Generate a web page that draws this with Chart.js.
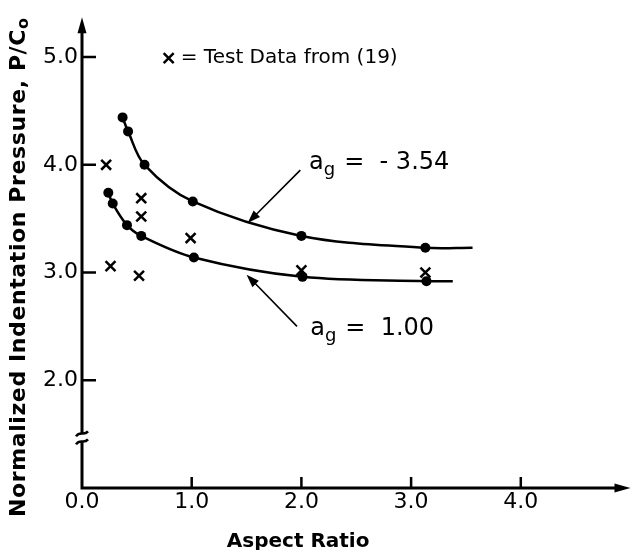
<!DOCTYPE html>
<html>
<head>
<meta charset="utf-8">
<script src="https://cdn.jsdelivr.net/npm/chart.js@4.4.0/dist/chart.umd.min.js"></script>
<style>
html, body { margin: 0; padding: 0; background: #fff; }
#wrap { width: 640px; height: 550px; }
</style>
</head>
<body>
<div id="wrap"><canvas id="indent"></canvas></div>
<script>
// curve a_g = -3.54 (fitted points) and where the drawn line stops
var upperX = [0.37, 0.42, 0.57, 1.01, 2.00, 3.13];
var upperY = [4.44, 4.31, 4.00, 3.66, 3.34, 3.23];
var upperEnd = [3.56, 3.23];
// curve a_g = 1.00
var lowerX = [0.24, 0.28, 0.41, 0.54, 1.02, 2.01, 3.14];
var lowerY = [3.74, 3.64, 3.44, 3.34, 3.14, 2.96, 2.92];
var lowerEnd = [3.38, 2.92];
// test data from (19)
var testX = [0.22, 0.26, 0.52, 0.54, 0.54, 0.99, 2.00, 3.13];
var testY = [4.00, 3.06, 2.97, 3.69, 3.52, 3.32, 3.02, 3.00];

var xTicks = [0, 1, 2, 3, 4];
var yTicks = [2, 3, 4, 5];
var xTitle = 'Aspect Ratio';
var yTitle = 'Normalized Indentation Pressure, P/C';
var yTitleSub = 'o';
var legendText = '= Test Data from (19)';
var curveLabels = ['- 3.54', '1.00'];

Chart.defaults.font.family = "'DejaVu Sans', sans-serif";
Chart.defaults.color = '#000';

function curve(xs, ys, end) {
    var pts = xs.map(function(x, i){ return {x: x, y: ys[i]}; });
    pts.push({x: end[0], y: end[1]});
    return pts;
}
function radii(xs) {
    var r = xs.map(function(){ return 5; });
    r.push(0);
    return r;
}

function arrowHead(ctx, x1, y1, x2, y2, len, half) {
    var a = Math.atan2(y2 - y1, x2 - x1);
    ctx.beginPath();
    ctx.moveTo(x2, y2);
    ctx.lineTo(x2 - len*Math.cos(a) + half*Math.sin(a), y2 - len*Math.sin(a) - half*Math.cos(a));
    ctx.lineTo(x2 - len*Math.cos(a) - half*Math.sin(a), y2 - len*Math.sin(a) + half*Math.cos(a));
    ctx.closePath();
    ctx.fill();
}

// a_g label: 'a' + subscript 'g' + rest
function agLabel(ctx, x, y, rest) {
    ctx.textAlign = 'left';
    ctx.textBaseline = 'alphabetic';
    ctx.font = '24px "DejaVu Sans"';
    ctx.fillText('a', x, y);
    var w = ctx.measureText('a').width;
    ctx.font = '18px "DejaVu Sans"';
    ctx.fillText('g', x + w, y + 6);
    w += ctx.measureText('g').width;
    ctx.font = '24px "DejaVu Sans"';
    ctx.fillText(rest, x + w + 9, y);
}

var extras = {
    id: 'extras',
    afterDraw: function(chart) {
        var ctx = chart.ctx;
        var sx = chart.scales.x, sy = chart.scales.y;
        var area = chart.chartArea;
        var x0 = sx.getPixelForValue(0), y0 = sy.getPixelForValue(1);
        var yb = sy.getPixelForValue(1.47);
        ctx.save();
        ctx.strokeStyle = '#000';
        ctx.fillStyle = '#000';
        ctx.lineCap = 'butt';

        // axes
        ctx.lineWidth = 3;
        ctx.beginPath();
        ctx.moveTo(x0, y0 + 1.5); ctx.lineTo(x0, yb + 5);
        ctx.moveTo(x0, yb - 4); ctx.lineTo(x0, area.top + 10);
        ctx.moveTo(x0 - 1.5, y0); ctx.lineTo(area.right - 10, y0);
        ctx.stroke();
        arrowHead(ctx, x0, area.top + 20, x0, area.top, 16, 4.5);
        arrowHead(ctx, area.right - 20, y0, area.right, y0, 16, 4.5);

        // axis break
        ctx.lineWidth = 2.5;
        ctx.beginPath();
        ctx.moveTo(x0 - 6, yb - 1);
        ctx.bezierCurveTo(x0 - 2, yb - 7, x0 + 2, yb - 1, x0 + 6, yb - 6);
        ctx.moveTo(x0 - 6, yb + 7);
        ctx.bezierCurveTo(x0 - 2, yb + 1, x0 + 2, yb + 7, x0 + 6, yb + 2);
        ctx.stroke();

        // tick marks, drawn inside the axes
        ctx.lineWidth = 2.5;
        ctx.beginPath();
        sy.ticks.forEach(function(t){
            var p = sy.getPixelForValue(t.value);
            ctx.moveTo(x0, p); ctx.lineTo(x0 + 14, p);
        });
        sx.ticks.forEach(function(t){
            if (t.value === 0) return;
            var p = sx.getPixelForValue(t.value);
            ctx.moveTo(p, y0); ctx.lineTo(p, y0 - 11);
        });
        ctx.stroke();

        // legend
        var lx = sx.getPixelForValue(0.79), ly = sy.getPixelForValue(5.0) + 1;
        ctx.lineWidth = 2.5;
        ctx.beginPath();
        ctx.moveTo(lx - 5, ly - 5); ctx.lineTo(lx + 5, ly + 5);
        ctx.moveTo(lx + 5, ly - 5); ctx.lineTo(lx - 5, ly + 5);
        ctx.stroke();
        ctx.font = '20px "DejaVu Sans"';
        ctx.textAlign = 'left';
        ctx.textBaseline = 'middle';
        ctx.fillText(legendText, sx.getPixelForValue(0.90), ly);

        // curve labels with arrows
        ctx.lineWidth = 1.6;
        var ax1 = sx.getPixelForValue(1.99), ay1 = sy.getPixelForValue(3.95);
        var ax2 = sx.getPixelForValue(1.51), ay2 = sy.getPixelForValue(3.46);
        ctx.beginPath(); ctx.moveTo(ax1, ay1); ctx.lineTo(ax2 + 6, ay2 - 6); ctx.stroke();
        arrowHead(ctx, ax1, ay1, ax2, ay2, 13, 4.5);
        agLabel(ctx, sx.getPixelForValue(2.07), sy.getPixelForValue(3.96), '=  ' + curveLabels[0]);

        var bx1 = sx.getPixelForValue(1.96), by1 = sy.getPixelForValue(2.50);
        var bx2 = sx.getPixelForValue(1.50), by2 = sy.getPixelForValue(2.98);
        ctx.beginPath(); ctx.moveTo(bx1, by1); ctx.lineTo(bx2 + 6, by2 + 6); ctx.stroke();
        arrowHead(ctx, bx1, by1, bx2, by2, 13, 4.5);
        agLabel(ctx, sx.getPixelForValue(2.08), sy.getPixelForValue(2.42), '=  ' + curveLabels[1]);

        // axis titles
        ctx.font = 'bold 20px "DejaVu Sans"';
        ctx.textAlign = 'center';
        ctx.textBaseline = 'alphabetic';
        ctx.fillText(xTitle, sx.getPixelForValue(1.97), 547);

        ctx.translate(19, 268);
        ctx.rotate(-Math.PI / 2);
        ctx.font = 'bold 22px "DejaVu Sans"';
        var wMain = ctx.measureText(yTitle).width;
        ctx.font = 'bold 16px "DejaVu Sans"';
        var wSub = ctx.measureText(yTitleSub).width;
        var gap = (499 - wMain - wSub) / yTitle.length;
        ctx.font = 'bold 22px "DejaVu Sans"';
        ctx.textAlign = 'left';
        ctx.textBaseline = 'middle';
        ctx.letterSpacing = gap + 'px';
        var start = -249;
        ctx.fillText(yTitle, start, 0);
        var wSpaced = ctx.measureText(yTitle).width;
        ctx.letterSpacing = '0px';
        ctx.font = 'bold 16px "DejaVu Sans"';
        ctx.fillText(yTitleSub, start + wSpaced, 5);
        ctx.restore();
    }
};

var ctx1 = document.getElementById('indent').getContext('2d');
var chart = new Chart(ctx1, {
    type: 'scatter',
    data: {
        datasets: [{
            label: 'a_g = -3.54',
            data: curve(upperX, upperY, upperEnd),
            showLine: true,
            borderColor: '#000',
            backgroundColor: '#000',
            borderWidth: 2.5,
            pointRadius: radii(upperX),
            pointBorderWidth: 0,
            tension: 0.35
        }, {
            label: 'a_g = 1.00',
            data: curve(lowerX, lowerY, lowerEnd),
            showLine: true,
            borderColor: '#000',
            backgroundColor: '#000',
            borderWidth: 2.5,
            pointRadius: radii(lowerX),
            pointBorderWidth: 0,
            tension: 0.35
        }, {
            label: 'Test Data from (19)',
            data: testX.map(function(x, i){ return {x: x, y: testY[i]}; }),
            pointStyle: 'crossRot',
            pointRadius: 7,
            borderColor: '#000',
            borderWidth: 2.5
        }]
    },
    options: {
        responsive: true,
        maintainAspectRatio: false,
        animation: false,
        layout: { padding: { left: 0, top: 12, right: 2, bottom: 0 } },
        plugins: {
            legend: { display: false },
            tooltip: { enabled: false }
        },
        scales: {
            x: {
                type: 'linear',
                min: 0,
                max: 5.0,
                grid: { display: false, drawTicks: false },
                border: { display: false },
                afterBuildTicks: function(scale){
                    scale.ticks = xTicks.map(function(v){ return {value: v}; });
                },
                afterFit: function(scale){ scale.height = 62; },
                ticks: {
                    padding: 1,
                    font: { size: 22 },
                    color: '#000',
                    callback: function(v){ return Number(v).toFixed(1); }
                }
            },
            y: {
                type: 'linear',
                min: 1.0,
                max: 5.37,
                grid: { display: false, drawTicks: false },
                border: { display: false },
                afterBuildTicks: function(scale){
                    scale.ticks = yTicks.map(function(v){ return {value: v}; });
                },
                afterFit: function(scale){ scale.width = 82; },
                ticks: {
                    padding: 4,
                    font: { size: 22 },
                    color: '#000',
                    callback: function(v){ return Number(v).toFixed(1); }
                }
            }
        }
    },
    plugins: [extras]
});
</script>
</body>
</html>
